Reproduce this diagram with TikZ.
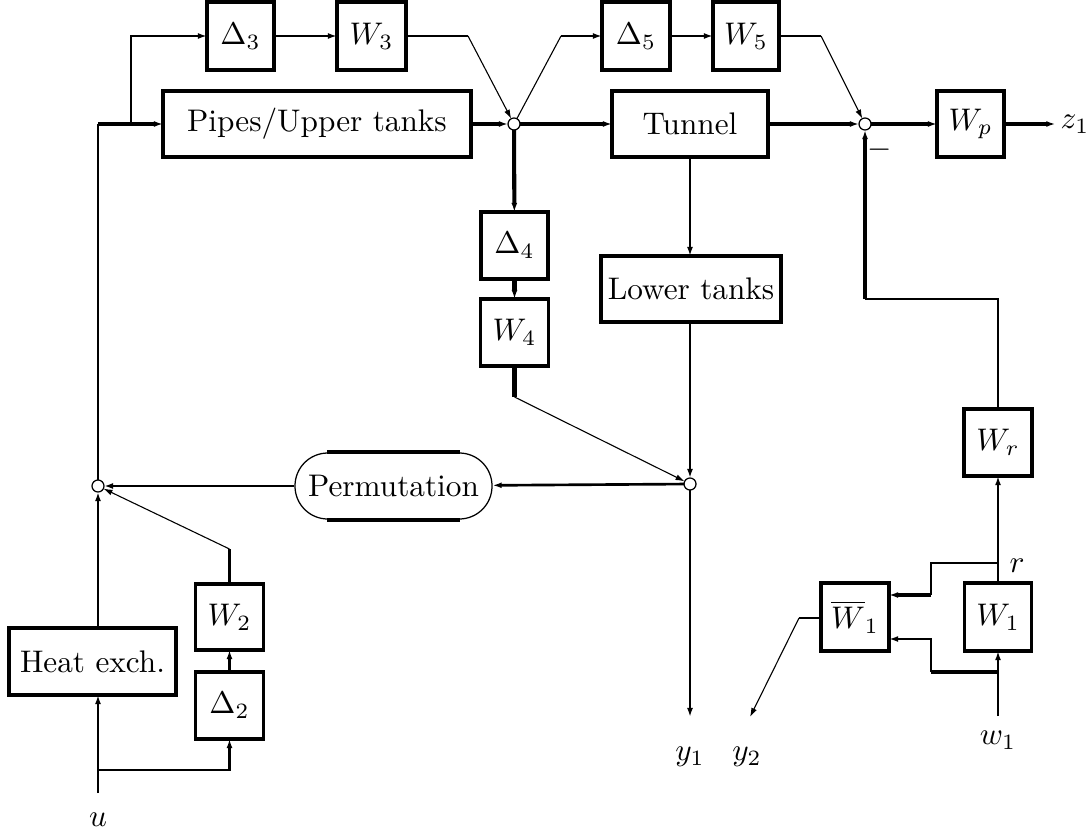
\documentclass[tikz,border=0pt]{standalone}
\usetikzlibrary{arrows.meta,calc}
\begin{document}
\begin{tikzpicture}[x=0.32pt,y=-0.32pt,
  blk/.style 2 args={draw, line width=1pt, minimum width=#1*0.32pt,
    minimum height=#2*0.32pt, inner sep=0pt, outer sep=0pt},
  sumj/.style={circle, draw, line width=0.4pt, fill=white,
    minimum size=12*0.32pt, inner sep=0pt, outer sep=0pt},
  perm/.style={draw, line width=0.4pt, rounded corners=10.5pt,
    minimum width=197*0.32pt, minimum height=66*0.32pt, inner sep=0pt},
  lbl/.style={inner sep=0pt},
  wire/.style={line width=0.85pt},
  heavy/.style={line width=1.3pt},
  fine/.style={line width=0.35pt},
  arr/.style={-{Latex[length=2.9pt,width=1.9pt]}}]
\useasboundingbox (0,0) rectangle (1091,832);

% ---- upper uncertainty paths
\node[blk={67}{68}] (d3) at (240.5,36) {$\Delta_3$};
\node[blk={69}{68}] (w3) at (371.5,36) {$W_3$};
\node[blk={68}{68}] (d5) at (636,36) {$\Delta_5$};
\node[blk={66}{68}] (w5) at (746,36) {$W_5$};

% ---- main chain
\node[blk={308}{66}] (pipes) at (317,124) {Pipes/Upper tanks};
\node[blk={156}{66}] (tunnel) at (690,124) {Tunnel};
\node[blk={67}{66}] (wp) at (970.5,124) {$W_p$};
\node[lbl,inner sep=1.5pt] (z1) at (1075,124) {$z_1$};
\node[sumj] (s1) at (514,124) {};
\node[sumj] (s2) at (865,124) {};
\node[lbl] (minus) at (880,150) {$-$};

% ---- middle column
\node[blk={67}{67}] (d4) at (514.5,245.5) {$\Delta_4$};
\node[blk={68}{67}] (w4) at (514.5,332.5) {$W_4$};
\node[blk={180}{66}] (lower) at (691,289) {Lower tanks};
\node[sumj] (s3) at (690,484) {};
\node[perm] (pm) at (393.5,486) {Permutation};
\node[sumj] (s4) at (98,486) {};

% ---- lower left
\node[blk={167}{67}] (heat) at (92.5,661.5) {Heat exch.};
\node[blk={68}{66}] (w2) at (229.5,617) {$W_2$};
\node[blk={68}{67}] (d2) at (229.5,705.5) {$\Delta_2$};
\node[lbl] (u) at (98,820) {$u$};

% ---- lower right
\node[blk={68}{67}] (wr) at (998,442.5) {$W_r$};
\node[blk={67}{68}] (w1) at (998,617) {$W_1$};
\node[blk={68}{68}] (w1b) at (855,617) {$\overline{W}_1$};
\node[lbl] (r) at (1017,566) {$r$};
\node[lbl] (w1lab) at (998,740) {$w_1$};
\node[lbl] (y1) at (690,757) {$y_1$};
\node[lbl] (y2) at (747,757) {$y_2$};

% ---- bend points
\coordinate (lcorner) at (98,124);
\coordinate (br3) at (131,124);
\coordinate (uin) at (98,793);
\coordinate (ubr) at (98,770);
\coordinate (w4bend) at (514.5,397);
\coordinate (w2bend) at (229.5,549);
\coordinate (fbk) at (865,299);
\coordinate (w1src) at (998,716);
\coordinate (rbr) at (998,563);
\coordinate (rd) at (931,595);
\coordinate (wbr) at (998,672);
\coordinate (wl) at (931,672);
\coordinate (wu) at (931,639);
\coordinate (w1bout) at (799,618);
\coordinate (y1end) at (690,717);
\coordinate (y2end) at (750,717);

% thick straight edges of the permutation block
\draw[heavy] ([xshift=10.5pt]pm.north west) -- ([xshift=-10.5pt]pm.north east);
\draw[heavy] ([xshift=10.5pt]pm.south west) -- ([xshift=-10.5pt]pm.south east);

% ---- connectors: upper part
\draw[wire] (s4) -- (lcorner);
\draw[heavy] (lcorner) -- (br3);
\draw[heavy,arr] (br3) -- (pipes.west);
\draw[wire,arr] (br3) |- (d3.west);
\draw[wire,arr] (d3) -- (w3);
\draw[wire] (w3.east) -- ++(62,0) coordinate (w3out);
\draw[fine,arr] (w3out) -- (s1);
\draw[heavy,arr] (pipes) -- (s1);
\draw[fine] (s1) -- ($(d5.west)+(-41,0)$) coordinate (d5in);
\draw[wire,arr] (d5in) -- (d5.west);
\draw[wire,arr] (d5) -- (w5);
\draw[wire] (w5.east) -- ++(42,0) coordinate (w5out);
\draw[fine,arr] (w5out) -- (s2);
\draw[heavy,arr] (s1) -- (tunnel);
\draw[heavy,arr] (tunnel) -- (s2);
\draw[heavy,arr] (s2) -- (wp);
\draw[heavy,arr] (wp) -- (z1);

% ---- connectors: middle
\draw[heavy,arr] (s1) -- (d4);
\draw[heavy,arr] (d4) -- (w4);
\draw[heavy] (w4.south) -- (w4bend);
\draw[fine,arr] (w4bend) -- (s3);
\draw[wire,arr] (tunnel.south) -- (tunnel.south |- lower.north);
\draw[wire,arr] (s3 |- lower.south) -- (s3);
\draw[wire,arr] (s3) -- (pm);
\draw[wire,arr] (pm) -- (s4);
\draw[wire,arr] (s3) -- (y1end);

% ---- connectors: lower left
\draw[wire,arr] (s4 |- heat.north) -- (s4);
\draw[wire,arr] (uin) -- (uin |- heat.south);
\draw[wire,arr] (ubr) -| (d2.south);
\draw[wire,arr] (d2) -- (w2);
\draw[wire] (w2.north) -- (w2bend);
\draw[fine,arr] (w2bend) -- (s4);

% ---- connectors: lower right
\draw[wire,arr] (w1src) -- (w1.south);
\draw[wire,arr] (w1.north) -- (wr.south);
\draw[wire] (wr.north) |- (fbk);
\draw[heavy,arr] (fbk) -- (s2);
\draw[wire] (rbr) -| (rd);
\draw[heavy,arr] (rd) -- (w1b.east |- rd);
\draw[heavy] (wbr) -- (wl);
\draw[wire,arr] (wl) |- (w1b.east |- wu);
\draw[wire] (w1b.west |- w1bout) -- (w1bout);
\draw[fine,arr] (w1bout) -- (y2end);
\end{tikzpicture}
\end{document}
